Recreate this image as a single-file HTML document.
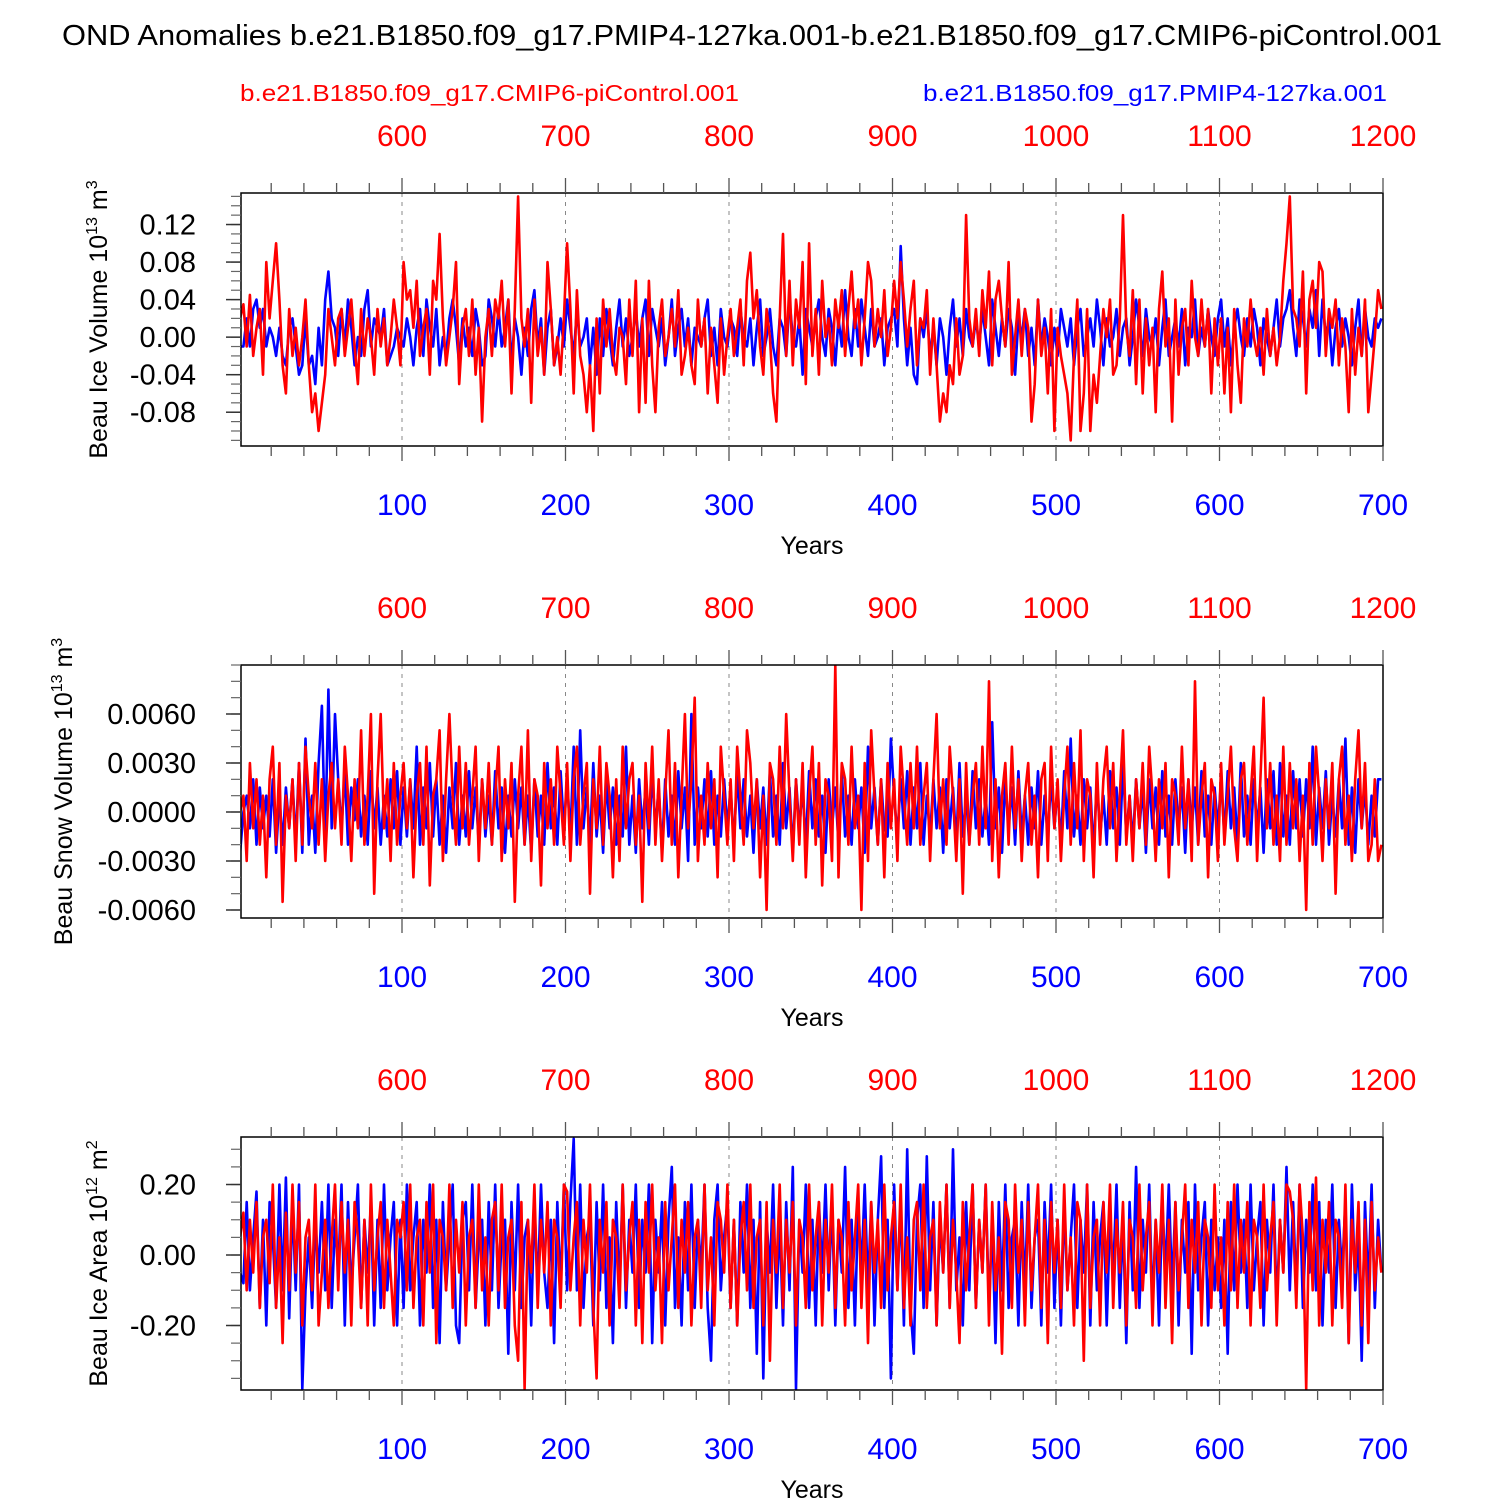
<!DOCTYPE html>
<html><head><meta charset="utf-8"><style>
html,body{margin:0;padding:0;background:#fff}
svg{display:block;font-family:"Liberation Sans",Arial,sans-serif}
</style></head><body>
<svg id="chart" width="1500" height="1500" viewBox="0 0 1500 1500" xmlns="http://www.w3.org/2000/svg">
<text x="62" y="45" font-size="29" textLength="1380" lengthAdjust="spacingAndGlyphs">OND Anomalies b.e21.B1850.f09_g17.PMIP4-127ka.001-b.e21.B1850.f09_g17.CMIP6-piControl.001</text>
<text x="240" y="101" font-size="23" fill="#ff0000" textLength="499" lengthAdjust="spacingAndGlyphs">b.e21.B1850.f09_g17.CMIP6-piControl.001</text>
<text x="923" y="101" font-size="23" fill="#0000ff" textLength="464" lengthAdjust="spacingAndGlyphs">b.e21.B1850.f09_g17.PMIP4-127ka.001</text>
<g id="panels"></g>
</svg>
<script>
const yearsStep = 2;
const blueTicks = [100,200,300,400,500,600,700];
const redTicks = [600,700,800,900,1000,1100,1200];
const p1Ticks = [0.12,0.08,0.04,0.00,-0.04,-0.08];
const p1Labels = ["0.12","0.08","0.04","0.00","-0.04","-0.08"];
const p2Ticks = [0.006,0.003,0,-0.003,-0.006];
const p2Labels = ["0.0060","0.0030","0.0000","-0.0030","-0.0060"];
const p3Ticks = [0.2,0,-0.2];
const p3Labels = ["0.20","0.00","-0.20"];
const iceVolRed = [20,35,-10,45,-20,10,30,-40,80,20,60,100,40,-30,-60,30,-20,10,-30,0,40,-30,-80,-60,-100,
-70,-40,30,0,-30,20,30,-20,10,40,-10,-50,30,-20,20,0,-40,30,-10,20,-30,0,40,10,-30,
80,40,50,10,60,-20,10,30,-40,60,40,110,20,-30,0,30,80,-50,10,30,-20,40,-40,10,-90,
0,30,-20,40,20,60,-10,40,-60,30,150,20,-10,30,-70,40,-20,10,-40,80,30,-30,0,-40,20,
100,30,-60,50,-20,-40,-80,-30,-100,20,-60,40,-10,30,-20,-40,10,0,-50,40,-20,60,-80,20,-70,
60,-30,-80,10,40,-20,0,30,-10,50,-40,-20,10,-30,-50,40,-10,20,-60,10,-30,-70,20,-40,0,
30,-20,10,40,-30,60,90,20,50,-10,-40,30,0,-60,-90,20,110,-20,60,-30,40,10,80,-50,100,
-20,30,-40,60,0,20,-30,40,10,50,-20,30,70,10,40,-30,20,80,60,-10,30,0,50,-20,10,
60,20,80,40,-10,30,60,-30,20,10,50,-40,20,-30,-90,-60,-80,-30,-50,20,-40,-20,130,20,-10,
30,-20,50,10,70,-30,40,60,20,-10,80,-40,0,40,-20,30,10,-90,-50,40,-20,10,-60,30,-100,
10,-20,-40,-60,-110,-20,40,-100,-60,30,-100,-40,-70,-20,30,0,40,-40,-30,20,130,10,-20,50,-50,
40,-60,20,-30,10,-80,30,70,-10,20,-90,40,-40,10,30,-30,60,0,-20,40,-10,30,-60,20,-30,
20,-60,10,-80,30,-30,-70,20,-10,40,0,-20,10,-40,30,-20,10,-30,0,60,100,150,30,20,-10,
70,-60,40,60,10,80,70,-20,30,10,40,-30,20,-10,-80,30,-40,10,-20,40,-80,-40,0,50,30];
const iceVolBlue = [-10,-10,20,-10,30,40,10,30,-10,10,0,-20,10,-20,-30,10,20,-10,-40,-30,20,-30,-20,-50,10,
-30,40,70,20,10,-20,30,-10,40,10,-30,0,-20,30,50,-10,20,10,0,30,-30,-20,-10,10,0,
-10,20,0,-30,10,30,-20,40,10,-10,30,-30,0,-20,20,40,10,-30,20,-10,10,-20,30,10,-30,
-20,40,20,-10,30,-10,10,40,-30,20,0,-40,10,-20,30,50,-10,20,-40,10,30,-30,-10,20,-10,
40,10,-20,30,-10,0,20,-30,10,-40,20,-20,30,0,-30,10,40,-10,20,-20,0,30,-10,20,40,
-20,30,10,-10,20,-30,0,40,-20,10,30,-10,20,-30,10,0,-10,20,40,-20,10,-30,30,0,-10,
20,10,-20,30,0,-10,20,-30,10,40,-20,0,30,-10,-30,20,10,-20,40,0,-10,20,-40,30,10,
-10,20,40,0,-20,30,10,-30,20,-10,50,0,-20,30,-10,40,10,-20,30,-10,0,20,-30,10,20,
30,-10,97,20,-30,10,-40,-50,20,0,30,-20,10,-30,20,0,-40,10,40,-10,20,-20,30,0,-10,
20,-10,30,0,-30,40,10,-20,20,-10,30,10,-40,20,0,30,-20,10,-30,40,-10,20,0,-30,10,
-20,30,10,-10,20,-30,10,30,-20,0,20,-10,40,10,-30,20,-10,0,30,-20,10,20,-30,0,40,
10,-20,30,0,-10,20,-30,10,40,-20,0,20,-10,30,-30,10,0,40,-20,10,-10,30,0,-20,20,
40,-10,20,-30,10,30,0,-20,20,-10,30,10,-30,20,0,-20,10,40,-10,20,30,50,10,-20,40,
20,-10,30,10,50,-20,40,0,20,-30,10,30,-10,20,0,-30,10,40,-20,30,0,-10,20,10,20];
const snowVolRed = [0,10,-30,30,-10,20,-20,10,-40,20,40,-20,30,-55,10,-10,20,-30,30,-20,40,10,-10,30,-20,
20,-30,10,30,-10,20,-20,40,10,-30,20,-10,50,-20,10,60,-50,20,60,-10,20,-30,30,-20,10,
30,-10,20,-40,10,30,-20,40,-45,10,20,50,-30,20,60,10,-20,40,-10,30,-20,10,40,-30,20,
-10,30,-20,10,40,-30,20,-10,30,-55,10,40,-20,50,-30,20,10,-45,30,-10,20,-20,40,10,-20,
30,-30,20,40,-20,10,30,-50,20,-10,40,-20,30,10,-40,20,-30,40,-10,20,30,-20,10,-55,30,
-10,40,-20,20,-30,10,50,-20,30,-40,10,60,-10,20,70,-30,10,-20,30,-10,20,-40,40,10,-20,
20,-30,40,10,-20,50,30,-10,20,-40,10,-60,30,20,-20,40,-10,60,10,-30,20,-20,30,-40,10,
40,-20,30,-45,20,10,-30,90,-40,30,20,-20,40,-10,10,-60,30,-30,50,10,-20,20,-40,30,-10,
20,-30,40,10,-20,30,-10,40,-20,10,30,-30,20,60,-10,20,-20,40,10,-30,20,-50,30,-20,10,
30,-20,40,-10,80,-30,20,-40,10,30,-20,40,-10,20,-30,10,30,-20,10,-40,20,30,-30,40,-10,
20,-30,10,40,-20,30,-10,50,-30,20,10,-40,30,-20,20,40,-10,30,-30,10,50,-20,10,-30,20,
-10,30,-20,40,10,-30,20,-10,30,-40,20,10,-20,40,-10,20,-30,80,-20,10,30,-40,20,10,-30,
30,-20,10,40,-10,-30,20,30,-20,10,40,-30,20,70,-10,30,-20,10,-30,40,-20,30,-10,20,-30,
10,-60,30,-20,40,10,-30,20,-10,30,-50,20,40,-20,10,-30,20,50,-10,30,-30,-20,20,-30,-20];
const snowVolBlue = [-25,0,10,-10,20,-20,15,-10,10,-15,20,-25,10,-20,15,-10,20,-20,30,-25,45,-20,10,-25,30,
65,-20,75,-10,60,20,-10,25,-20,15,-5,20,-15,10,-20,25,-10,15,-20,10,-15,20,-10,25,-20,
15,-15,20,-10,40,-20,15,-10,30,-15,20,-20,10,-25,15,-10,30,-20,10,-15,25,-10,15,-20,20,
-15,10,-20,25,-10,15,-25,10,-15,20,-10,15,-20,10,-25,20,-15,10,-20,30,-10,15,-20,25,-10,
20,-15,40,-20,50,-10,15,-20,30,-15,10,-25,20,-10,15,-20,10,-15,40,-20,10,-25,20,-10,15,
-20,25,-10,15,-25,20,-15,10,-20,25,-10,15,-30,60,-20,15,-10,20,-15,25,-20,10,-15,20,-10,
15,-20,25,-10,20,-15,10,-25,20,-10,15,-20,25,-15,10,-20,30,-10,15,-25,20,-10,15,-20,25,
-10,20,-15,10,-25,20,-10,15,-20,25,-15,10,-20,20,-10,15,-25,40,-10,15,-20,20,-10,-15,45,
10,-15,20,-10,25,-20,15,-10,30,-20,10,-15,20,-10,15,-25,20,-10,15,-20,30,-15,10,-20,25,
-10,20,-15,10,-20,55,-10,15,-25,20,-10,15,-20,25,-15,10,-20,15,-10,25,-20,10,-15,20,-10,
15,-20,25,-10,45,-15,10,-20,20,-10,15,-25,20,-15,10,-20,25,-10,15,-20,30,-15,10,-20,20,
-10,15,-25,20,-10,15,-20,25,-15,10,-20,20,-10,15,-25,20,-10,15,-20,25,-15,10,-20,15,-10,
20,-15,25,-10,15,-20,30,-15,10,-20,20,-10,15,-25,20,-10,25,-20,30,-15,10,-20,25,-10,20,
-15,20,-10,40,-20,15,-10,25,-20,10,-15,20,-10,45,-20,15,-25,20,-10,15,-20,10,-15,20,20];
const iceAreaRed = [5,12,-10,10,-5,15,-15,5,10,-8,20,-15,5,-25,12,-10,20,-5,15,-20,5,10,-10,20,-20,
-5,10,-15,5,20,-10,15,-5,10,-20,15,5,-15,10,-20,20,-10,5,15,-15,10,-5,-20,10,5,
15,-10,20,-15,5,10,-20,15,-5,20,-25,10,5,-10,20,-15,10,-5,15,-20,5,10,-15,20,-10,
5,-20,10,15,-10,20,-15,5,10,-20,-30,15,-38,10,-5,20,-15,10,-5,15,-20,10,5,-15,20,
18,-10,5,15,-20,10,-5,20,-15,-35,10,-5,15,-20,10,5,-15,20,-10,5,15,-20,10,-25,15,
-5,20,-10,5,-25,15,-10,5,20,-15,10,-5,15,-20,5,10,-15,20,-10,5,-20,15,10,-5,20,
-15,10,-20,5,15,-10,20,-15,5,10,-20,15,-30,10,-5,20,-15,10,-5,15,-20,10,5,-15,20,
-10,5,15,-20,10,-5,20,-15,10,5,-20,15,-10,5,20,-15,10,-25,15,-5,10,-15,20,-10,5,
15,-10,20,-15,5,-20,10,15,-10,20,-15,5,10,-20,15,-5,20,-15,10,-5,-25,15,-10,5,20,
-15,10,-5,20,-20,15,-10,5,-28,15,10,-15,20,-5,10,-20,15,-10,5,20,-15,10,-25,15,-5,
10,-15,20,-10,5,-20,15,10,-30,20,-15,5,10,-20,15,-5,20,-15,10,-5,15,-20,10,5,-15,
20,-10,5,15,-20,10,-5,20,-15,10,-25,15,-10,5,20,-15,10,-5,15,-20,10,5,-15,20,-10,
5,-20,15,-10,20,-15,10,-5,15,-20,10,5,-15,20,-10,5,15,-20,10,-5,20,18,10,-15,20,
5,-38,15,-10,22,-20,10,-5,15,-20,10,5,-15,20,-25,10,-5,15,-20,10,-25,15,-10,5,-5];
const iceAreaBlue = [-5,-8,15,-10,5,18,-15,10,-20,15,5,-15,20,-10,22,-18,15,-10,20,-38,-10,5,-15,10,-5,
15,-10,20,-15,10,-5,20,-20,15,-10,5,20,-15,10,-5,15,-20,10,-15,20,-10,5,15,-20,10,
-15,20,-10,5,15,-20,10,-5,20,-15,10,-25,15,-10,5,20,-20,-25,10,15,-10,20,-15,5,10,
-20,15,-10,20,-15,5,10,-28,15,-10,20,-15,5,10,-20,15,-10,20,-5,-15,10,-25,15,-10,20,
-10,15,33,-10,20,-15,5,10,-20,15,-10,20,-15,5,-25,15,-10,20,-15,10,-5,20,-15,10,-5,
20,-25,10,-5,15,-20,10,25,-15,5,-20,15,-10,20,-15,10,-5,20,-15,-30,10,20,-10,5,15,
-15,10,-20,15,-5,20,-15,10,-28,15,-35,10,-5,20,-15,10,-20,15,-10,25,-38,10,-5,20,-15,
10,-20,15,-5,20,-10,15,-20,10,-5,25,-15,10,-20,15,-5,20,-10,15,-20,10,28,-15,10,-35,
20,-10,15,-20,30,-15,-28,10,20,-15,28,-10,15,-20,10,-5,20,-15,30,-10,5,-20,15,-10,20,
-15,10,-5,20,-15,10,-25,15,-10,20,-15,5,10,-20,15,-10,20,-15,5,10,-20,15,-5,20,-15,
10,-20,15,-10,5,20,-15,10,-5,20,-20,15,-10,5,15,-20,10,-5,20,-15,10,-25,15,-10,25,
-15,10,-5,20,-15,10,-20,15,-5,20,-10,15,-20,10,-5,15,-28,20,-10,5,15,-20,10,-10,5,
-15,10,-28,15,-10,20,-5,10,-15,20,-10,5,15,-20,10,-5,20,-15,10,-5,25,-10,15,-10,20,
-15,10,-5,20,-10,15,-20,10,-5,20,-15,10,-5,15,-25,20,-10,5,-30,15,-10,20,-15,10,-5];

const NS="http://www.w3.org/2000/svg";
const X0=241, X1=1383;
function xScale(yr){return 402+(yr-100)*(X1-402)/600;}
function mk(tag,attrs,parent){const e=document.createElementNS(NS,tag);for(const k in attrs)e.setAttribute(k,attrs[k]);parent.appendChild(e);return e;}
const root=document.getElementById('panels');

const panels=[
 {top:193,bot:446,ymin:-0.116,ymax:0.1536,ticks:p1Ticks,labels:p1Labels,minor:0.01,red:iceVolRed,blue:iceVolBlue,unit:0.001,title:"Beau Ice Volume 10",sup:"13",u:" m",usup:"3",tx:107,tl:290,name:"ice-volume"},
 {top:665,bot:918,ymin:-0.00649,ymax:0.009,ticks:p2Ticks,labels:p2Labels,minor:0.001,red:snowVolRed,blue:snowVolBlue,unit:0.0001,title:"Beau Snow Volume 10",sup:"13",u:" m",usup:"3",tx:72,tl:322,name:"snow-volume"},
 {top:1137,bot:1390,ymin:-0.383,ymax:0.3348,ticks:p3Ticks,labels:p3Labels,minor:0.05,red:iceAreaRed,blue:iceAreaBlue,unit:0.01,title:"Beau Ice Area 10",sup:"12",u:" m",usup:"2",tx:107,tl:258,name:"ice-area"}
];

panels.forEach((p,pi)=>{
 const g=mk('g',{},root);
 
 
 const ys=v=>p.bot-(v-p.ymin)*(p.bot-p.top)/(p.ymax-p.ymin);
 const clipId='clip'+pi;
 const cp=mk('clipPath',{id:clipId},g);
 mk('rect',{x:X0,y:p.top,width:X1-X0,height:p.bot-p.top},cp);
 blueTicks.slice(0,6).forEach(t=>{
  const l=mk('line',{x1:xScale(t),x2:xScale(t),y1:p.top,y2:p.bot,stroke:'#888','stroke-width':1,'stroke-dasharray':'4,5'},g);
  
  
 });
 [['blue','#0000ff',p.blue],['red','#ff0000',p.red]].forEach(([nm,col,arr])=>{
  let d='';
  arr.forEach((v,i)=>{const yr=1+i*yearsStep;d+=(i?'L':'M')+xScale(yr).toFixed(1)+','+ys(v*p.unit).toFixed(1);});
  const path=mk('path',{d:d,fill:'none',stroke:col,'stroke-width':2.6,'stroke-linejoin':'round','clip-path':'url(#'+clipId+')'},g);
  
  
 });
 const fr=mk('rect',{x:X0,y:p.top,width:X1-X0,height:p.bot-p.top,fill:'none',stroke:'#000','stroke-width':1.5},g);
 
 
 for(let yr=20;yr<=700;yr+=20){
  const x=xScale(yr), major=yr%100===0;
  const len=major?15:10;
  mk('line',{x1:x,x2:x,y1:p.bot,y2:p.bot+len,stroke:'#555','stroke-width':1.3},g);
  mk('line',{x1:x,x2:x,y1:p.top,y2:p.top-len,stroke:'#555','stroke-width':1.3},g);
 }
 blueTicks.forEach(t=>{
  const tx=mk('text',{x:xScale(t),y:p.bot+69,'font-size':30,fill:'#0000ff','text-anchor':'middle'},g);
  tx.textContent=t;
  
  
 });
 redTicks.forEach((t,i)=>{
  const tx=mk('text',{x:xScale(blueTicks[i]),y:p.top-47,'font-size':30,fill:'#ff0000','text-anchor':'middle'},g);
  tx.textContent=t;
  
  
 });
 const xt=mk('text',{x:812,y:p.bot+108,'font-size':25,'text-anchor':'middle'},g);
 xt.textContent='Years';
 
 
 const n0=Math.ceil(p.ymin/p.minor-1e-9), n1=Math.floor(p.ymax/p.minor+1e-9);
 for(let n=n0;n<=n1;n++){
  const y=ys(n*p.minor);
  mk('line',{x1:X0,x2:X0-10,y1:y,y2:y,stroke:'#666','stroke-width':1.2},g);
 }
 p.ticks.forEach((t,i)=>{
  const y=ys(t);
  mk('line',{x1:X0,x2:X0-15,y1:y,y2:y,stroke:'#333','stroke-width':1.5},g);
  const tx=mk('text',{x:X0-45,y:y+10,'font-size':29,'text-anchor':'end'},g);
  tx.textContent=p.labels[i];
  
  
 });
 const cy=(p.top+p.bot)/2;
 const yt=mk('text',{x:0,y:0,'font-size':25,'text-anchor':'middle',transform:'translate('+p.tx+','+cy+') rotate(-90)'},g);
 
 
 yt.innerHTML=p.title+'<tspan font-size="16" dy="-10">'+p.sup+'</tspan><tspan dy="10">'+p.u+'</tspan><tspan font-size="16" dy="-10">'+p.usup+'</tspan>';
});
</script>
</body></html>
